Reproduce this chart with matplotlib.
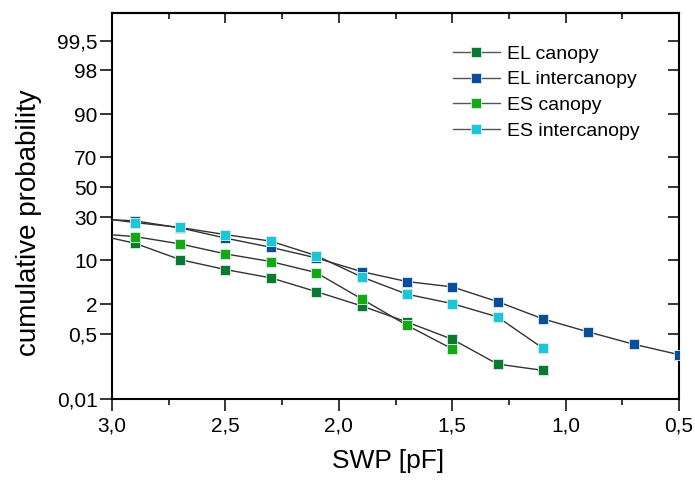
import math
from statistics import NormalDist
import numpy as np
import matplotlib
matplotlib.use("Agg")
import matplotlib.pyplot as plt

plt.rcParams['font.family'] = ['Liberation Sans', 'DejaVu Sans']

# ---------------- data ----------------
x_el_canopy = [3.1, 2.9, 2.7, 2.5, 2.3, 2.1, 1.9, 1.7, 1.5, 1.3, 1.1]
y_el_canopy = [21.0, 16.3, 10.2, 7.42, 5.58, 3.35, 1.86, 0.90, 0.38, 0.095, 0.065]

x_el_inter = [3.1, 2.9, 2.7, 2.5, 2.3, 2.1, 1.9, 1.7, 1.5, 1.3, 1.1, 0.9, 0.7, 0.5]
y_el_inter = [29.0, 27.8, 23.8, 18.6, 14.6, 10.75, 6.93, 4.89, 4.01, 2.23, 1.04, 0.553, 0.292, 0.164]

x_es_canopy = [3.1, 2.9, 2.7, 2.5, 2.3, 2.1, 1.9, 1.7, 1.5]
y_es_canopy = [21.0, 19.35, 16.0, 12.1, 9.6, 6.7, 2.5, 0.77, 0.226]

x_es_inter = [3.1, 2.9, 2.7, 2.5, 2.3, 2.1, 1.9, 1.7, 1.5, 1.3, 1.1]
y_es_inter = [30.2, 26.8, 24.0, 20.3, 17.2, 11.5, 5.78, 3.02, 2.05, 1.14, 0.234]

series_labels = ["EL canopy", "EL intercanopy", "ES canopy", "ES intercanopy"]
series_colors = ["#0B7A30", "#0C4C9C", "#14A814", "#1CC6D8"]

yticks = [0.01, 0.5, 2, 10, 30, 50, 70, 90, 98, 99.5]
ytick_labels = ["0,01", "0,5", "2", "10", "30", "50", "70", "90", "98", "99,5"]
xticks = [3.0, 2.5, 2.0, 1.5, 1.0, 0.5]
xtick_labels = ["3,0", "2,5", "2,0", "1,5", "1,0", "0,5"]
xminor = [2.75, 2.25, 1.75, 1.25, 0.75]

# ---------------- probability scale ----------------
_nd = NormalDist()
_ppf = np.vectorize(lambda p: _nd.inv_cdf(p), otypes=[float])
_erf = np.vectorize(math.erf, otypes=[float])


def prob_fwd(p):
    p = np.asarray(p, dtype=float) / 100.0
    p = np.clip(p, 1e-12, 1 - 1e-12)
    return _ppf(p)


def prob_inv(z):
    z = np.asarray(z, dtype=float)
    return 50.0 * (1.0 + _erf(z / math.sqrt(2.0)))


fig = plt.figure(figsize=(6.95, 4.86), dpi=100)
ax = fig.add_axes([0.1612, 0.179, 0.8158, 0.7943])

data = [(x_el_canopy, y_el_canopy), (x_el_inter, y_el_inter),
        (x_es_canopy, y_es_canopy), (x_es_inter, y_es_inter)]

for (xs, ys), lab, col in zip(data, series_labels, series_colors):
    ax.plot(xs, ys, '-', color='#333333', lw=1.0, marker='s', markersize=7.6,
            markerfacecolor=col, markeredgecolor='#d8f0e8', markeredgewidth=0.6,
            label=lab, zorder=3)

ax.set_yscale('function', functions=(prob_fwd, prob_inv))
ylim = (0.01, 99.89)
ax.set_ylim(*ylim)
ax.set_xlim(3.0, 0.5)

ax.set_yticks(yticks)
ax.set_yticklabels(ytick_labels)
ax.set_yticks([], minor=True)
ax.set_xticks(xticks)
ax.set_xticklabels(xtick_labels)
ax.set_xticks(xminor, minor=True)

for s in ax.spines.values():
    s.set_linewidth(1.5)

ax.tick_params(axis='both', which='major', direction='out', length=8.5, width=1.1,
               labelsize=15, colors='black')
ax.tick_params(axis='x', which='major', pad=4)
ax.tick_params(axis='y', which='major', pad=2)
ax.tick_params(axis='x', which='minor', direction='out', length=4.5, width=1.1)
ax.tick_params(top=False, right=False)

# top ticks (inward)
axt = ax.secondary_xaxis('top')
axt.set_xticks(xticks)
axt.set_xticks(xminor, minor=True)
axt.tick_params(which='major', direction='in', length=7, width=1.1, labeltop=False)
axt.tick_params(which='minor', direction='in', length=4.5, width=1.1)
axt.spines['top'].set_linewidth(1.5)

# right ticks (inward)
axr = ax.twinx()
axr.set_yscale('function', functions=(prob_fwd, prob_inv))
axr.set_ylim(*ylim)
axr.set_yticks(yticks)
axr.set_yticks([], minor=True)
axr.tick_params(which='major', direction='in', length=8, width=1.1, labelright=False)
for s in axr.spines.values():
    s.set_visible(False)

ax.set_xlabel("SWP [pF]", fontsize=19)
ax.set_ylabel("cumulative probability", fontsize=20)
ax.xaxis.set_label_coords(0.487, -0.1295)
ax.yaxis.set_label_coords(-0.1235, 0.456)

leg = ax.legend(loc='upper left', bbox_to_anchor=(0.601, 0.917), frameon=False,
                fontsize=14, handlelength=2.42, handletextpad=0.35,
                labelspacing=0.42, borderpad=0, borderaxespad=0)
for h in leg.legend_handles:
    h.set_color('#555555')

fig.savefig("out.png", dpi=100)
